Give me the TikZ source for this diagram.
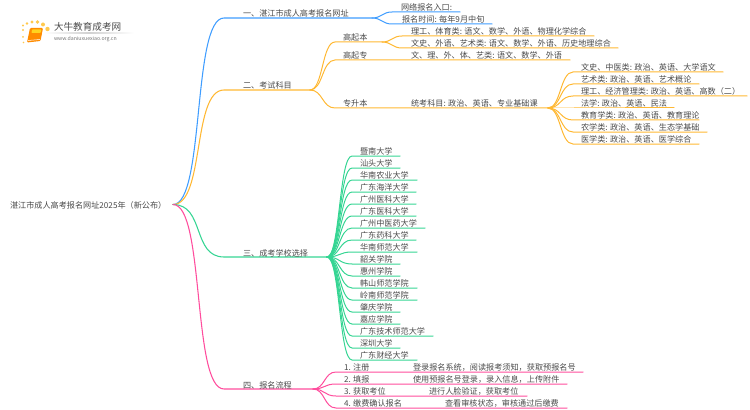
\documentclass[tikz,border=0pt]{standalone}
\usepackage{fontspec}
\setmainfont{Noto Sans CJK SC}
\definecolor{cblue}{HTML}{3F9DFF}
\definecolor{corange}{HTML}{FFB833}
\definecolor{cgreen}{HTML}{35D593}
\definecolor{cpink}{HTML}{FF4D9D}
\definecolor{ctext}{HTML}{4A4A4A}
\tikzset{
  lbl/.style={anchor=west,inner sep=0pt,outer sep=0pt,text=ctext,font=\fontsize{6.1pt}{7pt}\selectfont},
  link/.style={line width=0.75pt,line cap=round},
  trunk/.style={line width=0.8pt,line cap=round},
  logodot/.style={fill=corange!90!yellow,draw=none,opacity=0.85}
}
% colour, from, knee, end, half-width of the S-curve
\newcommand{\fanline}[5]{\draw[link,#1] (#2) .. controls +(#5,0) and +(-#5,0) .. (#3) -- (#4);}
\begin{document}
\begin{tikzpicture}[x=0.75pt,y=-0.75pt]
\useasboundingbox (0,0) rectangle (750,410);
% logo
\shade[left color=white,right color=white,middle color=black!18] (44,32.8) rectangle (134,33.4);
\foreach \i/\a/\b/\r in {1/23/30/1.2,2/23/25.5/1.2,3/27/23.5/1.4,4/32/22/1.7,5/37.5/22/1.9,6/43/24.5/2,7/47.5/29/2.2,8/23/37/1,9/23.5/42.5/0.8}
  \fill[logodot] (\a,\b) circle[radius=\r*0.75pt];
\fill[orange!90!yellow,rounded corners=0.8pt] (30,28) -- (43,28) -- (40.5,41) -- (27,42.5) -- cycle;
\fill[corange!60!yellow,rounded corners=0.5pt] (32,29.5) -- (41.5,29.5) -- (40.5,33) -- (31.5,33) -- cycle;
\draw[white,line width=0.4pt] (28,40.5) -- (40,39.5);
\node[lbl,font=\fontsize{7.2pt}{8pt}\selectfont] (logoname) at (54,27) {大牛教育成考网};
\node[lbl,font=\fontsize{3.9pt}{5pt}\selectfont,text=black!55] (logourl) at (54,38.6) {www.daniuxuexiao.org.cn};

% root
\node[lbl] (root) at (10,205) {湛江市成人高考报名网址2025年（新公布）};
\coordinate (o) at (173,204.5);

% level 1 junctions
\coordinate (b1a) at (224,18); \coordinate (b1) at (372,18);
\coordinate (b2a) at (224,90); \coordinate (b2) at (310,90);
\coordinate (b3a) at (224,257); \coordinate (b3) at (327,257);
\coordinate (b4a) at (224,389); \coordinate (b4) at (313,389);

\draw[trunk,cblue] (o) .. controls (205,204.5) and (192,18) .. (b1a) -- (b1);
\draw[trunk,corange] (o) .. controls (205,204.5) and (192,90) .. (b2a) -- (b2);
\draw[trunk,cgreen] (o) .. controls (205,204.5) and (192,257) .. (b3a) -- (b3);
\draw[trunk,cpink] (o) .. controls (205,204.5) and (192,389) .. (b4a) -- (b4);

\node[lbl] (t1) at (243,13.5) {一、湛江市成人高考报名网址};
\node[lbl] (t2) at (243,85) {二、考试科目};
\node[lbl] (t3) at (243,253) {三、成考学校选择};
\node[lbl] (t4) at (243,385) {四、报名流程};

% branch 1
\coordinate (e11a) at (392,12); \coordinate (e11) at (460,12);
\coordinate (e12a) at (392,24); \coordinate (e12) at (492,24);
\fanline{cblue}{b1}{e11a}{e11}{10}
\fanline{cblue}{b1}{e12a}{e12}{10}
\node[lbl] (n11) at (401,7.5) {网络报名入口:};
\node[lbl] (n12) at (402,19.5) {报名时间: 每年9月中旬};

% branch 2
\coordinate (g1a) at (335,42); \coordinate (g1) at (382,42);
\coordinate (g2a) at (335,60); \coordinate (g2) at (570,60);
\coordinate (g3a) at (335,108); \coordinate (g3) at (548,108);
\fanline{corange}{b2}{g1a}{g1}{13}
\fanline{corange}{b2}{g2a}{g2}{13}
\fanline{corange}{b2}{g3a}{g3}{13}
\node[lbl] (gn1) at (343,37) {高起本};
\node[lbl] (gn2) at (343,55) {高起专};
\node[lbl] (gn3) at (343,103) {专升本};
\coordinate (h1a) at (402,36); \coordinate (h1) at (594,36);
\coordinate (h2a) at (402,48); \coordinate (h2) at (618,48);
\fanline{corange}{g1}{h1a}{h1}{10}
\fanline{corange}{g1}{h2a}{h2}{10}
\node[lbl] (hn1) at (411,31) {理工、体育类: 语文、数学、外语、物理化学综合};
\node[lbl] (hn2) at (411,43) {文史、外语、艺术类: 语文、数学、外语、历史地理综合};
\node[lbl] (hn3) at (411,55) {文、理、外、体、艺类: 语文、数学、外语};
\node[lbl] (hn4) at (411,103) {统考科目: 政治、英语、专业基础课};

\foreach \i/\yy/\xe/\txt in {
  1/72/723/{文史、中医类: 政治、英语、大学语文},
  2/84/699/{艺术类: 政治、英语、艺术概论},
  3/96/747/{理工、经济管理类: 政治、英语、高数（二）},
  4/108/674/{法学: 政治、英语、民法},
  5/120/699/{教育学类: 政治、英语、教育理论},
  6/132/707/{农学类: 政治、英语、生态学基础},
  7/144/699/{医学类: 政治、英语、医学综合}}{
  \coordinate (ka\i) at (573,\yy);
  \coordinate (k\i) at (\xe,\yy);
  \fanline{corange}{g3}{ka\i}{k\i}{13}
  \node[lbl] (kn\i) at (581,\yy-5) {\txt};
}

% branch 3
\foreach \i/\yy/\xe/\txt in {
  1/156/400/暨南大学,
  2/168/400/汕头大学,
  3/180/417/华南农业大学,
  4/192/416/广东海洋大学,
  5/204/416/广州医科大学,
  6/216/416/广东医科大学,
  7/228/425/广州中医药大学,
  8/240/416/广东药科大学,
  9/252/417/华南师范大学,
  10/264/400/韶关学院,
  11/276/400/惠州学院,
  12/288/417/韩山师范学院,
  13/300/417/岭南师范学院,
  14/312/400/肇庆学院,
  15/324/400/嘉应学院,
  16/336/433/广东技术师范大学,
  17/348/400/深圳大学,
  18/360/417/广东财经大学}{
  \coordinate (sa\i) at (352,\yy);
  \coordinate (s\i) at (\xe,\yy);
  \fanline{cgreen}{b3}{sa\i}{s\i}{13}
  \node[lbl] (sn\i) at (360,\yy-5) {\txt};
}

% branch 4
\foreach \i/\yy/\xe/\txt/\tx/\det in {
  1/372/583/{1. 注册}/413/{登录报名系统，阅读报考须知，获取预报名号},
  2/384/567/{2. 填报}/413/{使用预报名号登录，录入信息，上传附件},
  3/396/527/{3. 获取考位}/429/{进行人脸验证，获取考位},
  4/408/567/{4. 缴费确认报名}/445/{查看审核状态，审核通过后缴费}}{
  \coordinate (pa\i) at (336,\yy);
  \coordinate (p\i) at (\xe,\yy);
  \fanline{cpink}{b4}{pa\i}{p\i}{12}
  \node[lbl] (pn\i) at (344,\yy-5) {\txt};
  \node[lbl] (pd\i) at (\tx,\yy-5) {\det};
}
\end{tikzpicture}
\end{document}
